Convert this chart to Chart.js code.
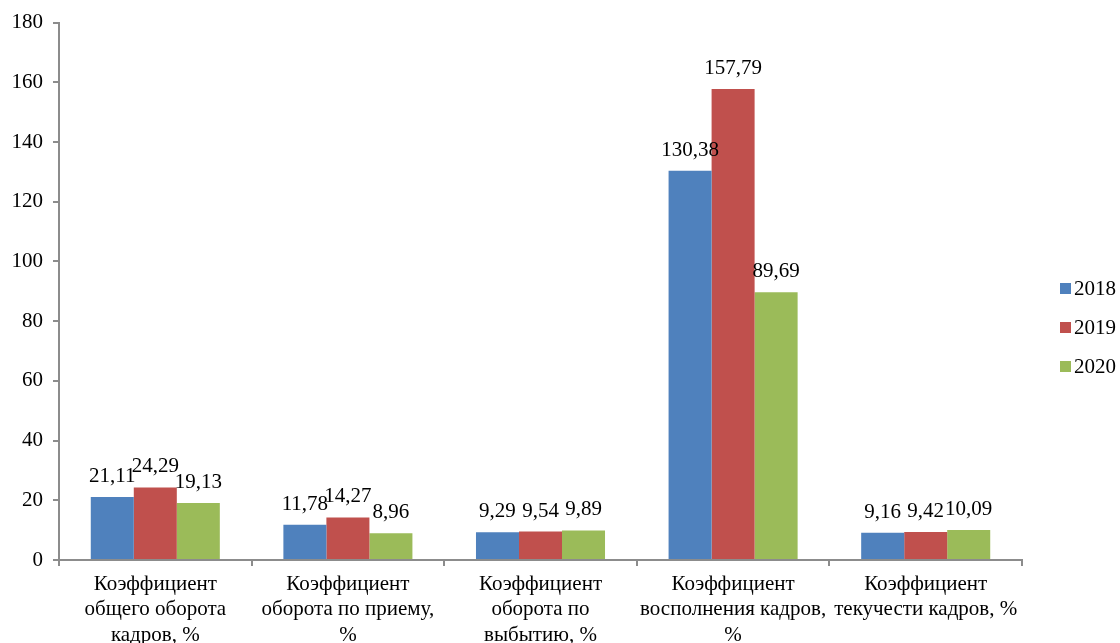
<!DOCTYPE html>
<html lang="ru">
<head>
    <meta charset="UTF-8">
    <title>Коэффициенты движения кадров</title>
    <script src="https://cdn.jsdelivr.net/npm/chart.js"></script>
    <style>
        body {
            margin: 0;
            padding: 0;
            background-color: #fff;
        }
        #wrap {
            width: 1120px;
            height: 643px;
        }
    </style>
</head>
<body>
<div id="wrap">
    <canvas id="staffChart" width="1120" height="643"></canvas>
</div>

<script>
    // Показатели по годам
    var categories = [
        ['Коэффициент', 'общего оборота', 'кадров, %'],
        ['Коэффициент', 'оборота по приему,', '%'],
        ['Коэффициент', 'оборота по', 'выбытию, %'],
        ['Коэффициент', 'восполнения кадров,', '%'],
        ['Коэффициент', 'текучести кадров, %']
    ];
    var years = ['2018', '2019', '2020'];
    var values2018 = [21.11, 11.78, 9.29, 130.38, 9.16];
    var values2019 = [24.29, 14.27, 9.54, 157.79, 9.42];
    var values2020 = [19.13, 8.96, 9.89, 89.69, 10.09];
    var colors = ['#4F81BD', '#C0504D', '#9BBB59'];

    var serif = '"Liberation Serif", "Times New Roman", serif';

    // Подписи значений над столбцами (с запятой)
    var valueLabels = {
        id: 'valueLabels',
        afterDatasetsDraw: function (chart) {
            var ctx = chart.ctx;
            ctx.save();
            ctx.font = '21px ' + serif;
            ctx.fillStyle = '#000';
            ctx.textAlign = 'center';
            ctx.textBaseline = 'alphabetic';
            chart.data.datasets.forEach(function (ds, i) {
                chart.getDatasetMeta(i).data.forEach(function (bar, j) {
                    var txt = ds.data[j].toFixed(2).replace('.', ',');
                    ctx.fillText(txt, bar.x, bar.y - 15);
                });
            });
            ctx.restore();
        }
    };

    // Легенда справа
    var sideLegend = {
        id: 'sideLegend',
        afterDraw: function (chart) {
            var ctx = chart.ctx;
            var x = chart.chartArea.right + 38;
            var y0 = 288;
            ctx.save();
            ctx.font = '21px ' + serif;
            ctx.textBaseline = 'middle';
            chart.data.datasets.forEach(function (ds, i) {
                var y = y0 + i * 39;
                ctx.fillStyle = ds.backgroundColor;
                ctx.fillRect(x, y - 5, 11, 11);
                ctx.fillStyle = '#000';
                ctx.fillText(ds.label, x + 14, y + 1);
            });
            ctx.restore();
        }
    };

    var ctx = document.getElementById('staffChart').getContext('2d');
    var staffChart = new Chart(ctx, {
        type: 'bar',
        data: {
            labels: categories,
            datasets: [
                { label: years[0], data: values2018, backgroundColor: colors[0] },
                { label: years[1], data: values2019, backgroundColor: colors[1] },
                { label: years[2], data: values2020, backgroundColor: colors[2] }
            ]
        },
        options: {
            responsive: false,
            animation: false,
            layout: {
                padding: { top: 20, right: 98, left: 0, bottom: 0 }
            },
            datasets: {
                bar: {
                    categoryPercentage: 0.67,
                    barPercentage: 1.0
                }
            },
            plugins: {
                legend: { display: false },
                tooltip: { enabled: false }
            },
            scales: {
                x: {
                    grid: {
                        offset: true,
                        drawOnChartArea: false,
                        drawTicks: true,
                        tickLength: 6,
                        color: '#8c8c8c',
                        lineWidth: 2
                    },
                    border: { color: '#8c8c8c', width: 2 },
                    ticks: {
                        maxRotation: 0,
                        minRotation: 0,
                        autoSkip: false,
                        padding: 6,
                        color: '#000',
                        font: { family: serif, size: 21, lineHeight: 1.2 }
                    },
                    afterFit: function (scale) { scale.height = 83; }
                },
                y: {
                    min: 0,
                    max: 180,
                    grid: {
                        drawOnChartArea: false,
                        tickLength: 6,
                        color: '#8c8c8c',
                        lineWidth: 2
                    },
                    border: { color: '#8c8c8c', width: 2 },
                    ticks: {
                        stepSize: 20,
                        padding: 10,
                        color: '#000',
                        font: { family: serif, size: 21 }
                    },
                    afterFit: function (scale) { scale.width = 59; }
                }
            }
        },
        plugins: [valueLabels, sideLegend]
    });
</script>
</body>
</html>
